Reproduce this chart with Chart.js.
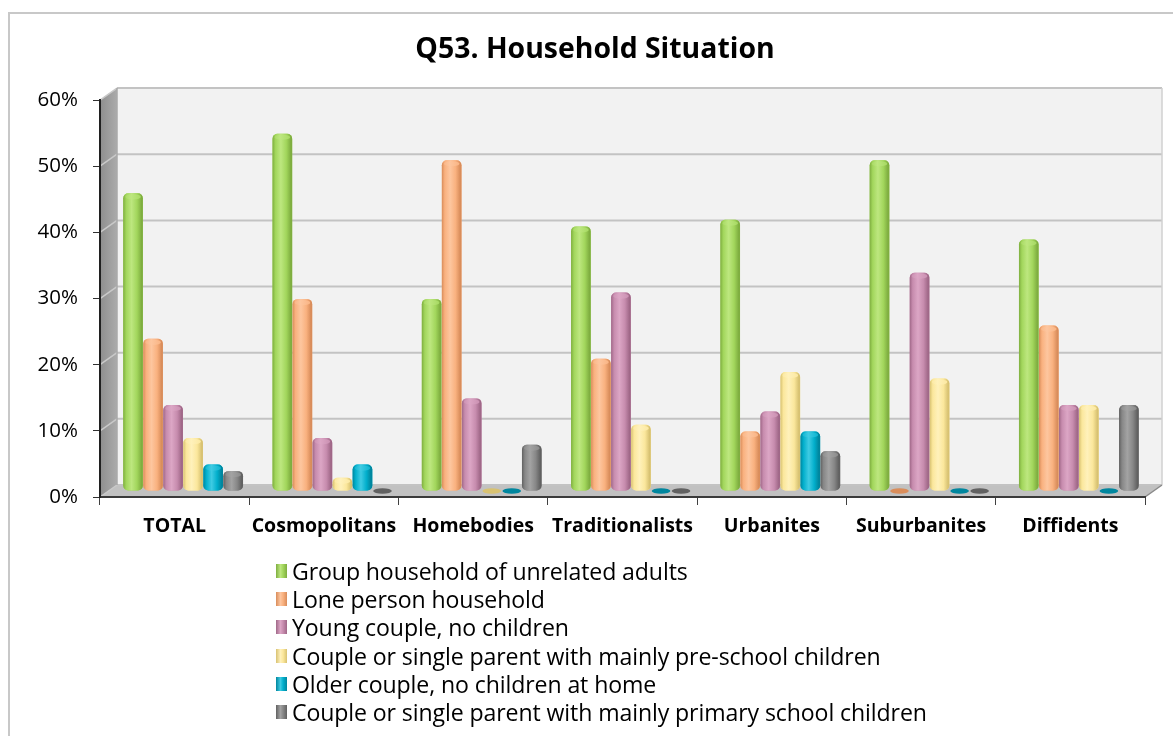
<!DOCTYPE html>
<html>
<head>
<meta charset="utf-8">
<script src="https://cdn.jsdelivr.net/npm/chart.js@4.4.1/dist/chart.umd.min.js"></script>
<style>
html,body{margin:0;padding:0;background:#fff;width:1173px;height:736px;overflow:hidden;font-family:'Open Sans',sans-serif;}
#frame{position:absolute;left:8px;top:12px;width:1300px;height:900px;border-left:2px solid #c8c8c8;border-top:2px solid #c8c8c8;}
#chart{position:absolute;left:0;top:0;}
#legend{position:absolute;left:276px;top:557px;font-size:23.1px;line-height:28px;color:#000;letter-spacing:-0.1px;}
.item{display:flex;align-items:center;white-space:nowrap;height:28.2px;}
.sw{width:11px;height:14px;margin-right:5px;flex:none;box-sizing:border-box;}
</style>
</head>
<body>
<div id="frame"></div>
<canvas id="chart" width="1173" height="736"></canvas>
<div id="legend"></div>
<script>
// ---- data ----
const categories = ['TOTAL','Cosmopolitans','Homebodies','Traditionalists','Urbanites','Suburbanites','Diffidents'];
const seriesNames = [
  'Group household of unrelated adults',
  'Lone person household',
  'Young couple, no children',
  'Couple or single parent with mainly pre-school children',
  'Older couple, no children at home',
  'Couple or single parent with mainly primary school children'
];
const groupHousehold = [45, 54, 29, 40, 41, 50, 38];
const lonePerson     = [23, 29, 50, 20,  9,  0, 25];
const youngCouple    = [13,  8, 14, 30, 12, 33, 13];
const preSchool      = [ 8,  2,  0, 10, 18, 17, 13];
const olderCouple    = [ 4,  4,  0,  0,  9,  0,  0];
const primarySchool  = [ 3,  0,  7,  0,  6,  0, 13];
const yTickValues    = [0, 10, 20, 30, 40, 50, 60];
const chartTitle = 'Q53. Household Situation';

// ---- styles ----
const palette = [
  {base:'#a2d65c', light:'#bde77f', dark:'#7fae40'},
  {base:'#f9b17f', light:'#fdc69f', dark:'#d98d5b'},
  {base:'#c78cae', light:'#dca6c5', dark:'#a06888'},
  {base:'#fbe79c', light:'#fff1bb', dark:'#d8c272'},
  {base:'#02afcc', light:'#3fcbe3', dark:'#00869e'},
  {base:'#878787', light:'#a3a3a3', dark:'#616161'}
];
const seriesValues = [groupHousehold, lonePerson, youngCouple, preSchool, olderCouple, primarySchool];
const DX = 17, DY = -12;       // depth of the back wall
const MX = 8.5, MY = -6;       // bars sit mid-depth

const datasets = seriesNames.map((name, i) => ({
  label: name,
  data: seriesValues[i],
  backgroundColor: palette[i].base,
  borderWidth: 0,
  borderRadius: 5,
  borderSkipped: false,
  barPercentage: 0.98,
  categoryPercentage: 0.805
}));

const depthPlugin = {
  id: 'depth3d',
  beforeDraw(chart) {
    const ctx = chart.ctx, a = chart.chartArea, ys = chart.scales.y;
    const L = a.left, R = a.right;
    const T = ys.getPixelForValue(60), B = ys.getPixelForValue(0);
    ctx.save();
    ctx.fillStyle = '#f2f2f2';
    ctx.fillRect(L + DX, T + DY, R - L, B - T);
    let g = ctx.createLinearGradient(L, 0, L + DX, 0);
    g.addColorStop(0, '#8e8e8e'); g.addColorStop(1, '#ababab');
    ctx.fillStyle = g;
    ctx.beginPath();
    ctx.moveTo(L, T); ctx.lineTo(L + DX, T + DY); ctx.lineTo(L + DX, B + DY); ctx.lineTo(L, B); ctx.closePath();
    ctx.fill();
    ctx.fillStyle = '#c1c1c1';
    ctx.beginPath();
    ctx.moveTo(L, B); ctx.lineTo(L + DX, B + DY); ctx.lineTo(R + DX, B + DY); ctx.lineTo(R, B); ctx.closePath();
    ctx.fill();
    yTickValues.forEach(v => {
      const y = ys.getPixelForValue(v);
      ctx.strokeStyle = '#c3c3c3'; ctx.lineWidth = 2;
      ctx.beginPath(); ctx.moveTo(L + DX, y + DY); ctx.lineTo(R + DX, y + DY); ctx.stroke();
      ctx.strokeStyle = '#c9c9c9'; ctx.lineWidth = 1.5;
      ctx.beginPath(); ctx.moveTo(L, y); ctx.lineTo(L + DX, y + DY); ctx.stroke();
    });
    ctx.strokeStyle = '#d0d0d0'; ctx.lineWidth = 1.5;
    ctx.beginPath(); ctx.moveTo(R + DX, T + DY); ctx.lineTo(R + DX, B + DY); ctx.stroke();
    ctx.strokeStyle = '#8a8a8a'; ctx.lineWidth = 1.5;
    ctx.beginPath(); ctx.moveTo(R, B); ctx.lineTo(R + DX, B + DY); ctx.stroke();
    ctx.strokeStyle = '#a8a8a8';
    ctx.beginPath(); ctx.moveTo(L + DX, B + DY); ctx.lineTo(L + DX, T + DY); ctx.stroke();
    ctx.restore();
  },
  beforeDatasetsDraw(chart) {
    chart.ctx.save();
    chart.ctx.translate(MX, MY);
  },
  afterDatasetsDraw(chart) {
    const ctx = chart.ctx;
    chart.data.datasets.forEach((ds, di) => {
      const meta = chart.getDatasetMeta(di);
      const p = palette[di];
      meta.data.forEach((el, i) => {
        const v = ds.data[i];
        const w = el.width, left = el.x - w / 2;
        if (v > 0) {
          const top = el.y, bottom = el.base, h = bottom - top;
          const r = Math.min(5, h / 2);
          const g = ctx.createLinearGradient(left, 0, left + w, 0);
          g.addColorStop(0, p.dark);
          g.addColorStop(0.15, p.base);
          g.addColorStop(0.42, p.light);
          g.addColorStop(0.7, p.base);
          g.addColorStop(0.93, p.dark);
          g.addColorStop(1, p.dark);
          ctx.fillStyle = g;
          ctx.beginPath();
          ctx.roundRect(left, top, w, h, r);
          ctx.fill();
          const cg = ctx.createLinearGradient(left, 0, left + w, 0);
          cg.addColorStop(0, p.base);
          cg.addColorStop(0.4, p.light);
          cg.addColorStop(1, p.base);
          ctx.fillStyle = cg;
          ctx.beginPath();
          ctx.ellipse(el.x, top + 3.5, w / 2 - 2, 2.6, 0, 0, Math.PI * 2);
          ctx.fill();
        } else {
          ctx.fillStyle = p.dark;
          ctx.beginPath();
          ctx.ellipse(el.x, el.base, w / 2 - 0.5, 2.8, 0, 0, Math.PI * 2);
          ctx.fill();
        }
      });
    });
    ctx.restore();
  }
};

new Chart(document.getElementById('chart'), {
  type: 'bar',
  data: { labels: categories, datasets },
  plugins: [depthPlugin],
  options: {
    responsive: false,
    animation: false,
    devicePixelRatio: 1,
    layout: { padding: { left: 17, right: 0, top: 0, bottom: 0 } },
    plugins: {
      legend: { display: false },
      tooltip: { enabled: false },
      title: {
        display: true,
        text: chartTitle,
        color: '#000',
        font: { family: 'Open Sans', size: 28.4, weight: 'bold' },
        padding: { top: 33, bottom: 33 }
      }
    },
    scales: {
      x: {
        offset: true,
        grid: { display: true, drawOnChartArea: false, drawTicks: true, tickLength: 8, color: '#404040', offset: true },
        border: { display: true, color: '#3a3a3a', width: 2 },
        ticks: {
          color: '#000', padding: 10, maxRotation: 0, minRotation: 0, autoSkip: false,
          font: { family: 'Open Sans', size: 19.5, weight: 'bold' }
        },
        afterFit(scale) { scale.height = 239; }
      },
      y: {
        min: 0, max: 60,
        grid: { display: true, drawOnChartArea: false, drawTicks: true, tickLength: 7, color: '#303030' },
        border: { display: true, color: '#202020', width: 2 },
        ticks: {
          stepSize: 10, color: '#000', padding: 15,
          font: { family: 'Open Sans', size: 20.5 },
          callback: v => v + '%'
        },
        afterFit(scale) { scale.width = 83; }
      },
      yRight: {
        position: 'right',
        display: true,
        min: 0, max: 60,
        grid: { display: false, drawTicks: false },
        border: { display: false },
        ticks: { display: false },
        afterFit(scale) { scale.width = 28; }
      }
    }
  }
});

const legendEl = document.getElementById('legend');
seriesNames.forEach((name, i) => {
  const p = palette[i];
  const item = document.createElement('div');
  item.className = 'item';
  const sw = document.createElement('span');
  sw.className = 'sw';
  sw.style.background = `linear-gradient(to right, ${p.dark}, ${p.light} 40%, ${p.base} 65%, ${p.dark})`;
  const tx = document.createElement('span');
  tx.textContent = name;
  item.appendChild(sw); item.appendChild(tx);
  legendEl.appendChild(item);
});
</script>
</body>
</html>
